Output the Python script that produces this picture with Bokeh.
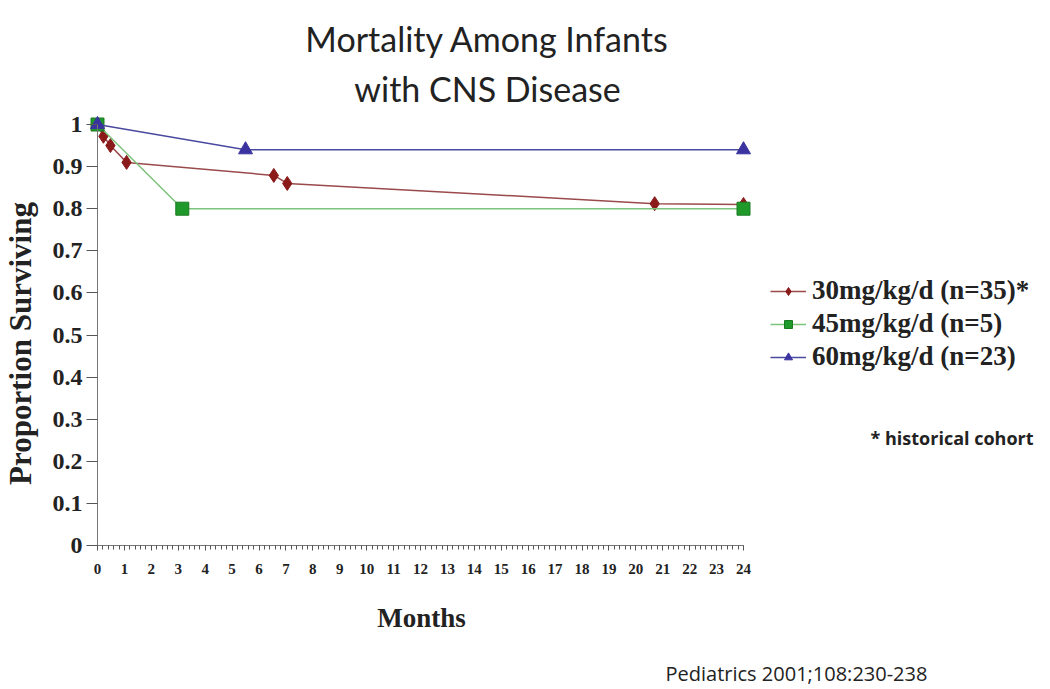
import math
from bokeh.plotting import figure
from bokeh.models import Range1d, Legend, LegendItem, Label, FixedTicker, LinearAxis
from bokeh.embed import file_html
from bokeh.resources import INLINE

# ---- data ----
months_30 = [0, 0.22, 0.48, 1.08, 6.55, 7.05, 20.7, 24]
surv_30 = [1.0, 0.972, 0.95, 0.91, 0.879, 0.86, 0.812, 0.81]
months_45 = [0, 3.15, 24]
surv_45 = [1.0, 0.80, 0.80]
months_60 = [0, 5.5, 24]
surv_60 = [1.0, 0.94, 0.94]
series_labels = ["30mg/kg/d (n=35)*", "45mg/kg/d (n=5)", "60mg/kg/d (n=23)"]
title_lines = ["Mortality Among Infants", "with CNS Disease"]
x_ticks = list(range(0, 25))
y_ticks = [0, 0.1, 0.2, 0.3, 0.4, 0.5, 0.6, 0.7, 0.8, 0.9, 1.0]
y_tick_labels = {0: "0", 0.1: "0.1", 0.2: "0.2", 0.3: "0.3", 0.4: "0.4", 0.5: "0.5",
                 0.6: "0.6", 0.7: "0.7", 0.8: "0.8", 0.9: "0.9", 1.0: "1"}

RED = "#8b1a1a"
RED_LINE = "#9a4a4a"
GREEN = "#1f9a2a"
GREEN_LINE = "#7cc47c"
BLUE = "#3a33a0"
BLUE_LINE = "#4a4aa0"
TXT = "#222222"

W, H = 1050, 689
PX_X = 646 / 24.0      # pixels per month
PX_Y = 421.0           # pixels per unit of proportion
X0, Y0 = 97, 545       # canvas position of (0, 0)

p = figure(width=W, height=H, output_backend="svg", toolbar_location=None,
           x_axis_location=None, y_axis_location=None,
           x_range=Range1d(-X0 / PX_X, (W - X0) / PX_X),
           y_range=Range1d(-(H - Y0) / PX_Y, Y0 / PX_Y),
           min_border=0)
p.outline_line_color = None
p.grid.grid_line_color = None
p.background_fill_color = "white"
p.border_fill_color = "white"

# axes drawn at the data origin
xa = LinearAxis(fixed_location=0)
xa.ticker = FixedTicker(ticks=x_ticks, minor_ticks=[i / 5 for i in range(0, 121)])
xa.bounds = (0, 24)
xa.axis_line_color = "#777777"
xa.major_tick_line_color = "#555555"
xa.minor_tick_line_color = "#555555"
xa.major_tick_out = 5
xa.major_tick_in = 0
xa.minor_tick_out = 4
xa.minor_tick_in = 0
xa.major_label_text_font = "Liberation Serif"
xa.major_label_text_font_style = "bold"
xa.major_label_text_font_size = "15px"
xa.major_label_text_color = TXT
xa.major_label_standoff = 13
p.add_layout(xa, "below")

ya = LinearAxis(fixed_location=0)
ya.ticker = FixedTicker(ticks=y_ticks)
ya.major_label_overrides = y_tick_labels
ya.bounds = (0, 1)
ya.axis_line_color = "#777777"
ya.major_tick_line_color = "#555555"
ya.major_tick_out = 11
ya.major_tick_in = 0
ya.minor_tick_line_color = None
ya.major_label_text_font = "Liberation Serif"
ya.major_label_text_font_style = "bold"
ya.major_label_text_font_size = "24px"
ya.major_label_text_color = TXT
ya.major_label_standoff = 4
p.add_layout(ya, "left")

# series
l30 = p.line(months_30, surv_30, line_color=RED_LINE, line_width=1.5)
m30 = p.scatter(months_30, surv_30, marker="diamond", size=14, fill_color=RED,
                line_color=RED)
l45 = p.line(months_45, surv_45, line_color=GREEN_LINE, line_width=1.5)
m45 = p.scatter(months_45, surv_45, marker="square", size=13, fill_color=GREEN,
                line_color="#1a7a22")
l60 = p.line(months_60, surv_60, line_color=BLUE_LINE, line_width=1.5)
m60 = p.scatter(months_60, surv_60, marker="triangle", size=14, fill_color=BLUE,
                line_color=BLUE)

# texts (positions given in picture pixels, converted to data space of the full-canvas frame)
def sx(px):
    return (px - X0) / PX_X

def sy(py):
    return (Y0 - py) / PX_Y

p.add_layout(Label(x=sx(487), y=sy(38), text=title_lines[0], text_font="Lato",
                   text_font_size="34px", text_color=TXT,
                   text_align="center", text_baseline="middle"))
p.add_layout(Label(x=sx(487), y=sy(88), text=title_lines[1], text_font="Lato",
                   text_font_size="34px", text_color=TXT,
                   text_align="center", text_baseline="middle"))
p.add_layout(Label(x=sx(20), y=sy(343), text="Proportion Surviving", angle=math.pi / 2,
                   text_font="Liberation Serif", text_font_style="bold",
                   text_font_size="31px", text_color=TXT,
                   text_align="center", text_baseline="middle"))
p.add_layout(Label(x=sx(421), y=sy(617), text="Months",
                   text_font="Liberation Serif", text_font_style="bold",
                   text_font_size="27px", text_color=TXT,
                   text_align="center", text_baseline="middle"))
p.add_layout(Label(x=sx(870), y=sy(437), text="* historical cohort", text_font="Open Sans",
                   text_font_style="bold", text_font_size="18px", text_color=TXT,
                   text_baseline="middle"))
p.add_layout(Label(x=sx(665), y=sy(673), text="Pediatrics 2001;108:230-238",
                   text_font="Open Sans", text_font_size="20px", text_color=TXT,
                   text_baseline="middle"))

legend = Legend(items=[
    LegendItem(label=series_labels[0], renderers=[l30, m30]),
    LegendItem(label=series_labels[1], renderers=[l45, m45]),
    LegendItem(label=series_labels[2], renderers=[l60, m60]),
], location=(770, 317), orientation="vertical",
    label_text_font="Liberation Serif", label_text_font_style="bold",
    label_text_font_size="27px", label_text_color=TXT,
    glyph_width=36, glyph_height=20, spacing=2, label_standoff=6,
    border_line_color=None, background_fill_alpha=0, padding=0, margin=0)
p.add_layout(legend, "center")

open("out.html", "w").write(file_html(p, INLINE))
